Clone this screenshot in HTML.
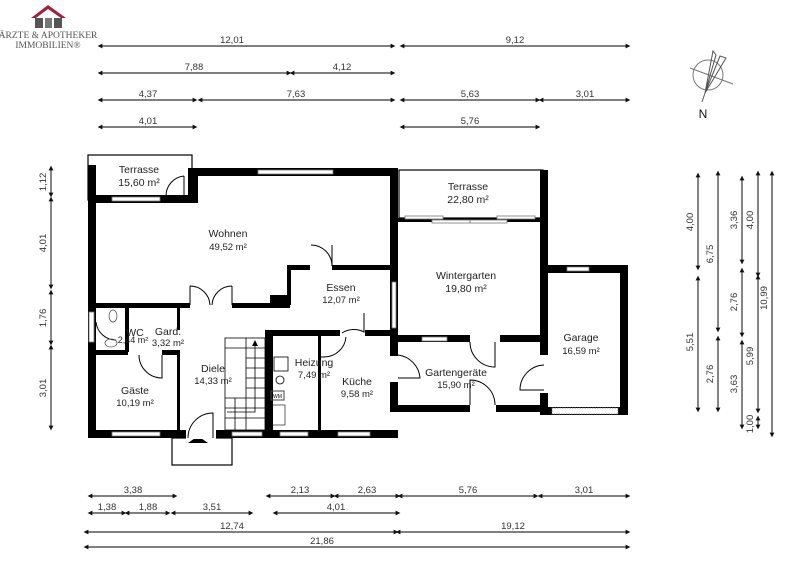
<!DOCTYPE html>
<html><head><meta charset="utf-8"><style>
body{margin:0;background:#fff}
svg{display:block;font-family:"Liberation Sans",sans-serif}
.d{stroke:#333;stroke-width:1.2;marker-start:url(#a);marker-end:url(#a)}
.t{font-size:9.5px;fill:#333;text-anchor:middle}
.r{font-size:10.5px;fill:#222;text-anchor:middle}
.w{fill:#000}
.win{fill:#fff;stroke:#777;stroke-width:0.8}
.th{fill:none;stroke:#000;stroke-width:1.2}
.dr{fill:none;stroke:#000;stroke-width:1}
</style></head><body>
<svg width="800" height="565" viewBox="0 0 800 565">
<defs><marker id="a" viewBox="0 0 10 10" refX="5" refY="5" markerWidth="4" markerHeight="4" orient="auto-start-reverse"><path d="M0,0L10,5L0,10z" fill="#111"/></marker></defs>
<!-- logo -->
<path d="M31,18 L48,5 L66,18 L61,18 L48,9 L36,18z" fill="#a0203e"/>
<rect x="35" y="18" width="8" height="10" fill="#555"/><rect x="45" y="18" width="7" height="10" fill="#777"/><rect x="54" y="18" width="8" height="10" fill="#555"/>
<text x="48" y="38" style="font-family:'Liberation Serif',serif;font-size:9.5px;fill:#555" text-anchor="middle">ÄRZTE &amp; APOTHEKER</text>
<text x="48" y="48" style="font-family:'Liberation Serif',serif;font-size:9.5px;fill:#555" text-anchor="middle">IMMOBILIEN®</text>
<!-- top dims -->
<line class="d" x1="100" y1="46" x2="393" y2="46"/><text class="t" x="232" y="43">12,01</text>
<line class="d" x1="402" y1="46" x2="628" y2="46"/><text class="t" x="515" y="43">9,12</text>
<line class="d" x1="100" y1="73" x2="289" y2="73"/><text class="t" x="194" y="70">7,88</text>
<line class="d" x1="292" y1="73" x2="393" y2="73"/><text class="t" x="342" y="70">4,12</text>
<line class="d" x1="100" y1="100" x2="195" y2="100"/><text class="t" x="148" y="97">4,37</text>
<line class="d" x1="200" y1="100" x2="393" y2="100"/><text class="t" x="296" y="97">7,63</text>
<line class="d" x1="402" y1="100" x2="538" y2="100"/><text class="t" x="470" y="97">5,63</text>
<line class="d" x1="541" y1="100" x2="628" y2="100"/><text class="t" x="585" y="97">3,01</text>
<line class="d" x1="100" y1="127" x2="195" y2="127"/><text class="t" x="148" y="124">4,01</text>
<line class="d" x1="402" y1="127" x2="538" y2="127"/><text class="t" x="470" y="124">5,76</text>
<!-- compass -->
<circle cx="708" cy="75" r="15" fill="none" stroke="#777" stroke-width="1"/>
<line x1="690" y1="68" x2="733" y2="84" stroke="#777"/>
<path d="M713,51 L705,93 L716,55z M720,56 L705,93 L726,58z" fill="none" stroke="#555" stroke-width="1"/>
<line x1="705" y1="93" x2="702" y2="102" stroke="#555"/>
<text x="703" y="118" style="font-size:12px;fill:#111" text-anchor="middle">N</text>
<!-- left dims -->
<line class="d" x1="51" y1="168" x2="51" y2="195"/><text class="t" transform="translate(46,182) rotate(-90)">1,12</text>
<line class="d" x1="51" y1="199" x2="51" y2="287"/><text class="t" transform="translate(46,243) rotate(-90)">4,01</text>
<line class="d" x1="51" y1="292" x2="51" y2="343"/><text class="t" transform="translate(46,318) rotate(-90)">1,76</text>
<line class="d" x1="51" y1="347" x2="51" y2="428"/><text class="t" transform="translate(46,388) rotate(-90)">3,01</text>
<!-- right dims -->
<line class="d" x1="698" y1="175" x2="698" y2="268"/><text class="t" transform="translate(693,222) rotate(-90)">4,00</text>
<line class="d" x1="698" y1="278" x2="698" y2="410"/><text class="t" transform="translate(693,342) rotate(-90)">5,51</text>
<line class="d" x1="718" y1="173" x2="718" y2="330"/><text class="t" transform="translate(713,254) rotate(-90)">6,75</text>
<line class="d" x1="718" y1="338" x2="718" y2="410"/><text class="t" transform="translate(713,374) rotate(-90)">2,76</text>
<line class="d" x1="742" y1="178" x2="742" y2="262"/><text class="t" transform="translate(737,220) rotate(-90)">3,36</text>
<line class="d" x1="742" y1="270" x2="742" y2="335"/><text class="t" transform="translate(737,302) rotate(-90)">2,76</text>
<line class="d" x1="742" y1="342" x2="742" y2="427"/><text class="t" transform="translate(737,384) rotate(-90)">3,63</text>
<line class="d" x1="758" y1="173" x2="758" y2="275"/><text class="t" transform="translate(753,220) rotate(-90)">4,00</text>
<line class="d" x1="758" y1="277" x2="758" y2="411"/><text class="t" transform="translate(753,356) rotate(-90)">5,99</text>
<line class="d" x1="758" y1="418" x2="758" y2="427"/><text class="t" transform="translate(753,424) rotate(-90)">1,00</text>
<line class="d" x1="772" y1="173" x2="772" y2="435"/><text class="t" transform="translate(767,298) rotate(-90)">10,99</text>
<!-- bottom dims -->
<line class="d" x1="90" y1="496" x2="175" y2="496"/><text class="t" x="133" y="493">3,38</text>
<line class="d" x1="268" y1="496" x2="333" y2="496"/><text class="t" x="300" y="493">2,13</text>
<line class="d" x1="336" y1="496" x2="398" y2="496"/><text class="t" x="367" y="493">2,63</text>
<line class="d" x1="400" y1="496" x2="536" y2="496"/><text class="t" x="468" y="493">5,76</text>
<line class="d" x1="540" y1="496" x2="628" y2="496"/><text class="t" x="584" y="493">3,01</text>
<line class="d" x1="90" y1="513" x2="124" y2="513"/><text class="t" x="107" y="510">1,38</text>
<line class="d" x1="127" y1="513" x2="168" y2="513"/><text class="t" x="148" y="510">1,88</text>
<line class="d" x1="173" y1="513" x2="251" y2="513"/><text class="t" x="212" y="510">3,51</text>
<line class="d" x1="275" y1="513" x2="398" y2="513"/><text class="t" x="336" y="510">4,01</text>
<line class="d" x1="86" y1="532" x2="396" y2="532"/><text class="t" x="232" y="529">12,74</text>
<line class="d" x1="398" y1="532" x2="628" y2="532"/><text class="t" x="513" y="529">19,12</text>
<line class="d" x1="86" y1="547" x2="628" y2="547"/><text class="t" x="322" y="544">21,86</text>
<!-- terrasse boxes -->
<rect class="th" x="88" y="155" width="104" height="45"/>
<rect class="th" x="399" y="170" width="144" height="48"/>
<rect class="th" x="172" y="438" width="60" height="27"/>
<path d="M198,436 L188,443 L208,443z" fill="#000"/>
<!-- walls -->
<g class="w">
<rect x="88" y="165" width="8" height="273"/>
<rect x="88" y="195" width="104" height="8"/>
<rect x="188" y="168" width="10" height="35"/>
<rect x="188" y="168" width="210" height="8"/>
<rect x="390" y="168" width="8" height="244"/>
<rect x="88" y="303" width="102" height="5"/>
<rect x="232" y="303" width="58" height="5"/>
<rect x="270" y="295" width="20" height="13"/>
<rect x="287" y="265" width="4" height="40"/>
<rect x="287" y="265" width="23" height="5"/>
<rect x="332" y="265" width="60" height="5"/>
<rect x="125" y="308" width="4" height="44"/>
<rect x="177" y="308" width="3" height="22"/>
<rect x="177" y="350" width="3" height="88"/>
<rect x="88" y="350" width="40" height="5"/>
<rect x="162" y="350" width="18" height="5"/>
<rect x="265" y="330" width="8" height="108"/>
<rect x="265" y="330" width="75" height="6"/>
<rect x="365" y="330" width="33" height="6"/>
<rect x="318" y="336" width="3" height="102"/>
<rect x="88" y="430" width="310" height="8"/>
<rect x="398" y="335" width="72" height="7"/>
<rect x="500" y="335" width="48" height="7"/>
<rect x="398" y="405" width="72" height="7"/>
<rect x="496" y="405" width="52" height="7"/>
<rect x="540" y="170" width="8" height="245"/>
<rect x="540" y="265" width="88" height="8"/>
<rect x="620" y="265" width="8" height="150"/>
<rect x="540" y="407" width="88" height="8"/>
</g>
<rect x="398" y="218" width="145" height="4" fill="#000"/>
<g fill="#fff">
<rect x="186" y="429" width="30" height="10"/>
<rect x="540" y="355" width="9" height="38"/>
<rect x="389" y="356" width="10" height="26"/>
</g>
<!-- windows -->
<rect class="win" x="112" y="197" width="48" height="4"/>
<rect class="win" x="258" y="170" width="75" height="4"/>
<rect class="win" x="89" y="312" width="5" height="30"/>
<rect class="win" x="112" y="432" width="48" height="4"/>
<rect class="win" x="232" y="432" width="30" height="4"/>
<rect class="win" x="280" y="432" width="28" height="4"/>
<rect class="win" x="338" y="432" width="32" height="4"/>
<rect class="win" x="405" y="216" width="38" height="3"/>
<rect class="win" x="432" y="220" width="38" height="3"/>
<rect class="win" x="470" y="220" width="37" height="3"/>
<rect class="win" x="497" y="216" width="38" height="3"/>
<rect class="win" x="392" y="282" width="4" height="46"/>
<rect class="win" x="422" y="337" width="25" height="4"/>
<rect class="win" x="567" y="267" width="22" height="4"/>
<rect x="552" y="408" width="66" height="6" fill="#fff" stroke="#777" stroke-width="0.8" stroke-dasharray="1.5,1"/>
<!-- doors -->
<path class="dr" d="M190,286 L190,305 M190,286 A20,20 0 0 1 210,305 M232,286 L232,305 M232,286 A20,20 0 0 0 212,305"/>
<path class="dr" d="M332,245 L332,266 A21,21 0 0 0 311,245"/>
<path class="dr" d="M184,176 L184,196 M184,176 A20,20 0 0 0 166,196"/>
<path class="dr" d="M162,355 L162,378 A23,23 0 0 1 139,355"/>
<path class="dr" d="M364,313 L364,332 A22,22 0 0 0 342,333"/>
<path class="dr" d="M346,337 A22,22 0 0 1 324,357 L320,357"/>
<path class="dr" d="M188,438 A25,25 0 0 1 213,413 L213,438"/>
<path class="dr" d="M398,355 A25,25 0 0 1 420,378 L398,378"/>
<path class="dr" d="M470,342 A25,25 0 0 0 495,367 L495,342"/>
<path class="dr" d="M495,405 A25,25 0 0 0 470,380 L470,405"/>
<path class="dr" d="M544,365 A25,25 0 0 0 520,390 L544,390"/>
<path class="dr" d="M116,340 A20,20 0 0 1 96,322"/>
<!-- stairs -->
<g stroke="#000" stroke-width="0.8" fill="none">
<rect x="225" y="338" width="40" height="92"/>
<path d="M246,338v92 M225,348h40 M246,358h19 M246,368h19 M246,378h19 M246,388h19 M246,398h19 M246,408h19 M246,418h19 M225,398h21 M225,408h21 M225,418h21 M235,398v32"/>
<path d="M255,345 V412 H227"/>
</g>
<path d="M255,340 L252,346 L258,346z" fill="#000"/>
<!-- fixtures -->
<rect x="274" y="357" width="14" height="14" fill="none" stroke="#000" stroke-width="0.8"/>
<circle cx="280" cy="380" r="4" fill="none" stroke="#000" stroke-width="0.8"/>
<rect x="271" y="391" width="13" height="9" fill="none" stroke="#444" stroke-width="1"/><text x="277.5" y="398" style="font-size:5px" text-anchor="middle">WM</text>
<rect x="271" y="405" width="14" height="20" fill="none" stroke="#000" stroke-width="0.6"/>
<ellipse cx="113" cy="316" rx="4" ry="6" fill="none" stroke="#555" stroke-width="0.8"/>
<ellipse cx="111" cy="343" rx="6" ry="4" fill="none" stroke="#555" stroke-width="0.8"/>
<!-- room labels -->
<text class="r" x="139" y="173">Terrasse</text><text class="r" x="139" y="186">15,60 m²</text>
<text class="r" x="228" y="237">Wohnen</text><text class="r" x="228" y="250" style="font-size:9.5px">49,52 m²</text>
<text class="r" x="341" y="291">Essen</text><text class="r" x="341" y="303" style="font-size:9.5px">12,07 m²</text>
<text class="r" x="135" y="336">WC</text><text class="r" x="133" y="343" style="font-size:9px">2,44 m²</text>
<text class="r" x="168" y="335">Gard.</text><text class="r" x="168" y="346" style="font-size:9.5px">3,32 m²</text>
<text class="r" x="213" y="372">Diele</text><text class="r" x="213" y="384" style="font-size:9.5px">14,33 m²</text>
<text class="r" x="135" y="394">Gäste</text><text class="r" x="135" y="406" style="font-size:9.5px">10,19 m²</text>
<text class="r" x="314" y="366">Heizung</text><text class="r" x="314" y="378" style="font-size:9.5px">7,49 m²</text>
<text class="r" x="357" y="385">Küche</text><text class="r" x="357" y="397" style="font-size:9.5px">9,58 m²</text>
<text class="r" x="468" y="190">Terrasse</text><text class="r" x="468" y="203">22,80 m²</text>
<text class="r" x="466" y="279">Wintergarten</text><text class="r" x="466" y="292">19,80 m²</text>
<text class="r" x="456" y="376">Gartengeräte</text><text class="r" x="456" y="388" style="font-size:9.5px">15,90 m²</text>
<text class="r" x="581" y="341">Garage</text><text class="r" x="581" y="354" style="font-size:9.5px">16,59 m²</text>
</svg>
</body></html>
